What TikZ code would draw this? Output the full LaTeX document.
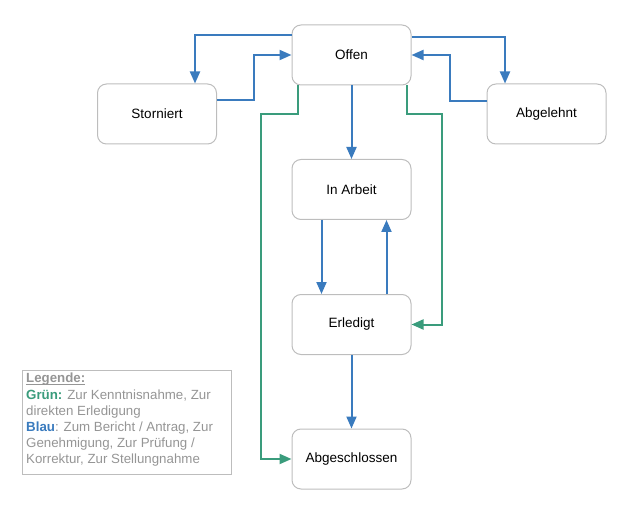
\documentclass[tikz,border=0pt]{standalone}
\usepackage{fontspec}
\setmainfont{Liberation Sans}
\usetikzlibrary{arrows.meta}
\definecolor{flowblue}{HTML}{3A7BBE}
\definecolor{flowgreen}{HTML}{3A9C7C}
\definecolor{boxgray}{HTML}{BDBDBD}
\definecolor{textgray}{HTML}{959595}
\begin{document}
\begin{tikzpicture}[x=1pt, y=-1pt,
    state/.style={rectangle, rounded corners=9pt, draw=boxgray, line width=1pt, minimum width=119pt, minimum height=60pt, font=\fontsize{13.5}{16}\selectfont},
    bluearrow/.style={draw=flowblue, line width=2pt, -{Triangle[length=12pt, width=10pt]}},
    greenarrow/.style={draw=flowgreen, line width=2pt, -{Triangle[length=12pt, width=10pt]}}]
    \useasboundingbox (0,0) rectangle (636,518);
    \node[state] (Offen) at (351.5, 55) {Offen};
    \node[state] (Storniert) at (157, 114) {Storniert};
    \node[state] (Abgelehnt) at (546.5, 114) {Abgelehnt};
    \node[state] (InArbeit) at (351.5, 189.5) {In Arbeit};
    \node[state] (Erledigt) at (351.5, 324.5) {Erledigt};
    \node[state] (Abgeschlossen) at (351.5, 459) {Abgeschlossen};

    % blue connectors
    \draw[bluearrow] ([yshift=20pt]Offen.west) -| ([xshift=38pt]Storniert.north);
    \draw[bluearrow] ([yshift=14pt]Storniert.east) -- ++(37pt,0) |- (Offen.west);
    \draw[bluearrow] ([yshift=18pt]Offen.east) -| ([xshift=-41.5pt]Abgelehnt.north);
    \draw[bluearrow] ([yshift=13pt]Abgelehnt.west) -- ++(-37pt,0) |- (Offen.east);
    \draw[bluearrow] (Offen.south) -- (InArbeit.north);
    \draw[bluearrow] ([xshift=-30pt]InArbeit.south) -- ([xshift=-30pt]Erledigt.north);
    \draw[bluearrow] ([xshift=35pt]Erledigt.north) -- ([xshift=35pt]InArbeit.south);
    \draw[bluearrow] (Erledigt.south) -- (Abgeschlossen.north);

    % green connectors
    \draw[greenarrow] ([xshift=-53.5pt]Offen.south) -- ++(0,-29pt) -- ++(-37pt,0) |- (Abgeschlossen.west);
    \draw[greenarrow] ([xshift=55pt]Offen.south) -- ++(0,-29pt) -- ++(35pt,0) |- (Erledigt.east);

    % legend
    \node[draw=boxgray, line width=0.8pt, anchor=north west, minimum width=209pt, minimum height=104pt, inner sep=0pt] (Legende) at (22,370) {};
    \node[anchor=north west, align=left, inner sep=0pt, text=textgray, font=\fontsize{13.3}{16.2}\selectfont] (LegendeText) at (26,373)
        {\textbf{Legende:}\llap{\rule[-1.6pt]{59pt}{0.8pt}}\\
         \textcolor{flowgreen}{\textbf{Grün:}} Zur Kenntnisnahme, Zur\\
         direkten Erledigung\\
         \textcolor{flowblue}{\textbf{Blau}}: Zum Bericht / Antrag, Zur\\
         Genehmigung, Zur Prüfung /\\
         Korrektur, Zur Stellungnahme};
\end{tikzpicture}
\end{document}
